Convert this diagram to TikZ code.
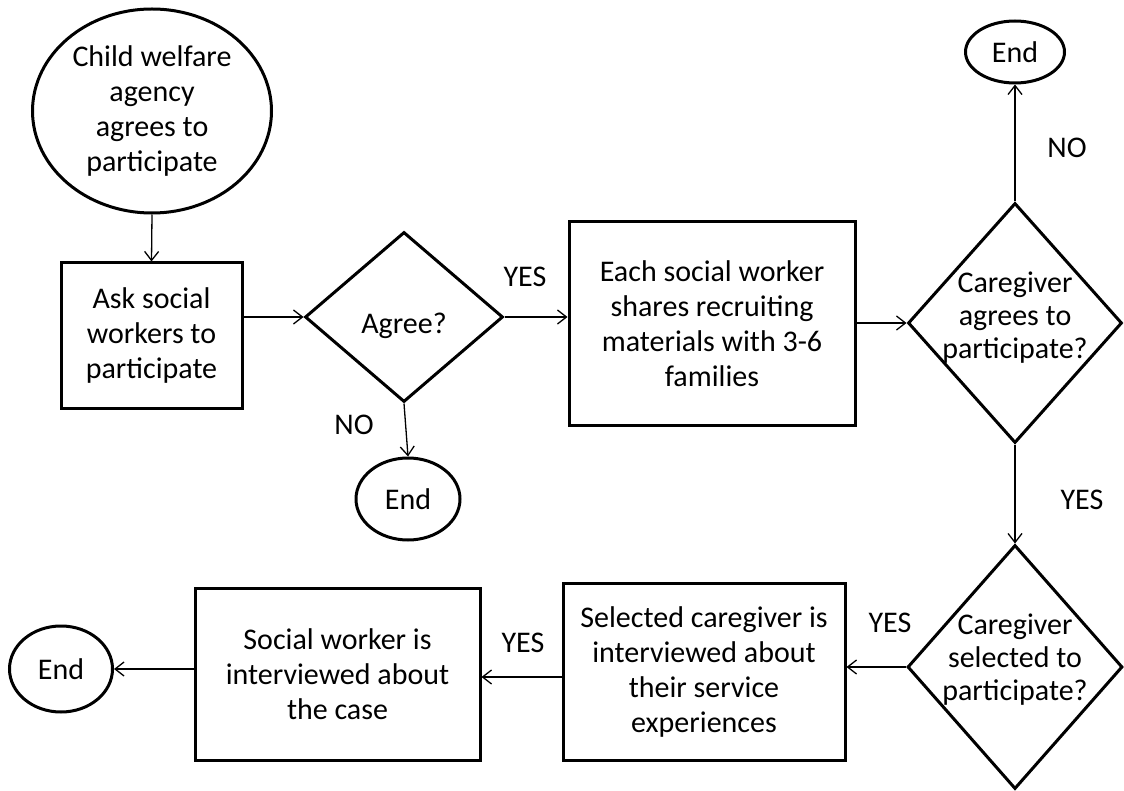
\documentclass[tikz,border=0pt]{standalone}
\usepackage{fontspec}
\setmainfont{Carlito}
\usetikzlibrary{shapes.geometric,arrows.meta}
\begin{document}
\begin{tikzpicture}[x=1pt,y=-1pt,
  every node/.style={font=\fontsize{30pt}{35pt}\selectfont, inner sep=0pt, align=center},
  stepbox/.style={draw, line width=3pt, rectangle},
  oval/.style={draw, line width=3pt, ellipse},
  decision/.style={draw, line width=3pt, diamond},
  dtext/.style={font=\fontsize{30pt}{33pt}\selectfont},
  tag/.style={},
  arr/.style={line width=1.3pt, -{Straight Barb[length=9pt,width=14pt,line width=1.3pt]}}]
\useasboundingbox (0,0) rectangle (1124,791);

% start
\node[oval, minimum width=239pt, minimum height=204pt] (start) at (152,111)
  {Child welfare\\agency\\agrees to\\participate};

% first row
\node[stepbox, minimum width=181pt, minimum height=145pt] (ask) at (151.5,335.5)
  {Ask social\\workers to\\participate};
\node[decision, minimum width=198pt, minimum height=170pt] (agree) at (404,317) {};
\node (agreet) at (404,326) {Agree?};
\node[oval, minimum width=104pt, minimum height=82pt] (end1) at (408,499) {End};
\node[stepbox, minimum width=286pt, minimum height=203pt] (share) at (712,323.5)
  {Each social worker\\shares recruiting\\materials with 3-6\\families};
\node[decision, minimum width=214pt, minimum height=240pt] (cagree) at (1015,323) {};
\node[dtext] (cagreet) at (1015,318) {Caregiver\\agrees to\\participate?};
\node[oval, minimum width=99pt, minimum height=62pt] (end2) at (1015,52) {End};

% second row
\node[decision, minimum width=215pt, minimum height=244pt] (csel) at (1015,667) {};
\node[dtext] (cselt) at (1015,660) {Caregiver\\selected to\\participate?};
\node[stepbox, minimum width=282pt, minimum height=177pt] (cint) at (704,671.5)
  {Selected caregiver is\\interviewed about\\their service\\experiences};
\node[stepbox, minimum width=285pt, minimum height=172pt] (swint) at (337.5,674)
  {Social worker is\\interviewed about\\the case};
\node[oval, minimum width=103pt, minimum height=86pt] (end3) at (61,669) {End};

% branch labels
\node[tag] (yes1) at (525,277) {YES};
\node[tag] (no1) at (354,425) {NO};
\node[tag] (no2) at (1067,148) {NO};
\node[tag] (yes2) at (1082,500) {YES};
\node[tag] (yes3) at (890,623) {YES};
\node[tag] (yes4) at (523,643) {YES};

% connectors
\draw[arr] (start.south) -- (ask.north);
\draw[arr] (ask.east |- agree.west) -- (agree.west);
\draw[arr] (agree.east) -- (agree.east -| share.west);
\draw[arr] (agree.south) -- (end1.north);
\draw[arr] (share.east |- cagree.west) -- (cagree.west);
\draw[arr] (cagree.north) -- (end2.south);
\draw[arr] (cagree.south) -- (csel.north);
\draw[arr] (csel.west) -- (csel.west -| cint.east);
\draw[arr] (cint.west |- 0,677) -- (swint.east |- 0,677);
\draw[arr] (swint.west |- end3.east) -- (end3.east);
\end{tikzpicture}
\end{document}
